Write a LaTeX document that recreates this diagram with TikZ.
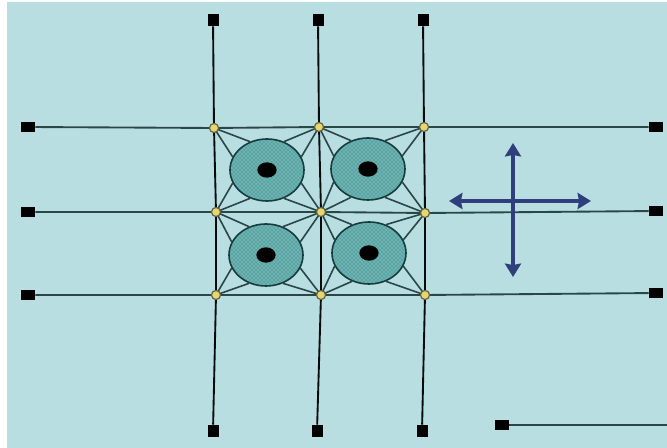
\documentclass[tikz,border=0pt]{standalone}
\usepackage{xcolor}
\usetikzlibrary{arrows.meta, shapes.geometric, patterns}
\definecolor{fond}{HTML}{B9DEE2}
\definecolor{piste}{HTML}{2B4646}
\definecolor{sarcelle}{HTML}{5AA5A3}
\definecolor{trame}{HTML}{B4E4E2}
\definecolor{contour}{HTML}{163C3E}
\definecolor{jaune}{HTML}{E6D66E}
\definecolor{marine}{HTML}{2F3F7C}
\tikzset{
  padv/.style={rectangle, fill=black, inner sep=0pt, minimum width=8.25pt, minimum height=9pt},
  padh/.style={rectangle, fill=black, inner sep=0pt, minimum width=10.5pt, minimum height=7.5pt},
  jonction/.style={circle, draw=black!70!yellow, fill=jaune, line width=0.9pt, inner sep=0pt, minimum size=6.8pt},
  cellule/.style={ellipse, draw=contour, line width=1.2pt, inner sep=0pt, minimum width=55.5pt, minimum height=46.5pt,
    preaction={fill=sarcelle}, pattern=crosshatch dots, pattern color=trame},
  noyau/.style={ellipse, fill=black, inner sep=0pt, minimum width=14.5pt, minimum height=11.5pt},
  pisteh/.style={color=piste, line width=1.4pt},
  pistev/.style={color=black!85!piste, line width=1.4pt},
  lien/.style={color=piste, line width=1.2pt},
  fleche/.style={{Stealth[length=10pt, width=12pt, inset=1pt]}-{Stealth[length=10pt, width=12pt, inset=1pt]}, color=marine, line width=3pt}
}
\begin{document}
\begin{tikzpicture}[x=0.75pt, y=-0.75pt]
    \useasboundingbox (0,0) rectangle (667,448);
    \fill[fond] (7,2) rectangle (667,448);

    % Plots et jonctions
    \foreach \x/\y/\id in {213/20/t1, 318/20/t2, 423/20/t3, 213/431/b1, 317/431/b2, 422/431/b3} {
      \node[padv] (\id) at (\x, \y) {};
    }
    \foreach \x/\y/\id in {28/127/g1, 28/212/g2, 28/295/g3, 656/127/d1, 656/211/d2, 656/293/d3, 502/425/d4} {
      \node[padh] (\id) at (\x, \y) {};
    }
    \coordinate (bord) at (667, 425);
    \foreach \x/\y/\id in {214/128/j11, 319/127/j12, 424/127/j13,
                           216/212/j21, 321/212/j22, 425/213/j23,
                           216/295/j31, 321/295/j32, 425/295/j33} {
      \coordinate (\id) at (\x, \y);
    }

    % Pistes
    \draw[pisteh] (g1) -- (j11) -- (j12) -- (j13) -- (d1);
    \draw[pisteh] (g2) -- (j21) -- (j22) -- (j23) -- (d2);
    \draw[pisteh] (g3) -- (j31) -- (j32) -- (j33) -- (d3);
    \draw[pisteh] (d4) -- (bord);
    \draw[pistev] (t1) -- (j11) -- (j21) -- (j31) -- (b1);
    \draw[pistev] (t2) -- (j12) -- (j22) -- (j32) -- (b2);
    \draw[pistev] (t3) -- (j13) -- (j23) -- (j33) -- (b3);

    % Cellules
    \foreach \x/\y/\id in {267/170/c1, 368/169/c2, 266/255/c3, 369/253/c4} {
      \node[cellule] (\id) at (\x, \y) {};
      \node[noyau] (\id n) at (\x, \y) {};
    }
    \foreach \id/\a/\b/\c/\d in {c1/j11/j12/j21/j22, c2/j12/j13/j22/j23, c3/j21/j22/j31/j32, c4/j22/j23/j32/j33} {
      \draw[lien] (\a) -- (\id.121);
      \draw[lien] (\a) -- (\id.159);
      \draw[lien] (\b) -- (\id.59);
      \draw[lien] (\b) -- (\id.21);
      \draw[lien] (\c) -- (\id.201);
      \draw[lien] (\c) -- (\id.239);
      \draw[lien] (\d) -- (\id.339);
      \draw[lien] (\d) -- (\id.301);
    }
    \foreach \id in {j11, j12, j13, j21, j22, j23, j31, j32, j33} {
      \node[jonction] (\id p) at (\id) {};
    }

    % Deplacement
    \coordinate (haut) at (513, 143);
    \coordinate (bas) at (513, 277);
    \coordinate (gauche) at (449, 201);
    \coordinate (droite) at (591, 201);
    \draw[fleche] (gauche) -- (droite);
    \draw[fleche] (haut) -- (bas);
\end{tikzpicture}
\end{document}
